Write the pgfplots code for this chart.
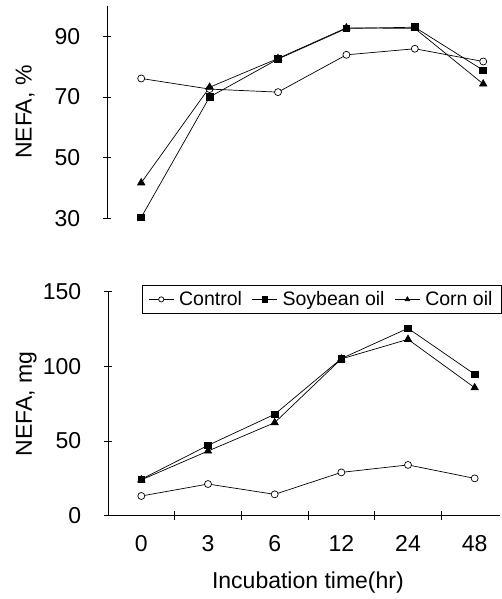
\documentclass[border=0pt]{standalone}
\usepackage{pgfplots}
\pgfplotsset{compat=1.18}
\usepackage{fontspec}
\setmainfont{Liberation Sans}

\begin{document}
\begin{tikzpicture}[font=\fontsize{23}{27}\selectfont]
\useasboundingbox (0pt,0pt) rectangle (501pt,599pt);
\pgfplotsset{
  common/.style={
    scale only axis,
    xmin=-0.5,
    /pgf/number format/assume math mode=true,
    tick align=inside,
    major tick length=8.5pt,
    tick style={line width=0.8pt, black},
    yticklabel style={xshift=-19pt},
    xticklabel style={yshift=-16pt},
    ylabel style={at={(axis description cs:-0.208,0.5)}, anchor=center},
    ctl/.style={black, line width=0.7pt, mark=*, mark size=3.5pt, mark options={fill=white, line width=0.7pt}},
    soy/.style={black, line width=0.7pt, mark=square*, mark size=3.4pt, mark options={fill=black}},
    crn/.style={black, line width=0.7pt, mark=triangle*, mark size=4.2pt, mark options={fill=black}},
  }
}
% top panel
\begin{axis}[common,
  at={(107pt,380.7pt)}, anchor=south west,
  width=394pt, height=212.3pt,
  xmax=5.26, ymin=30, ymax=100,
  ytick={30,50,70,90},
  axis x line=none, axis y line=left,
  axis line style={-, line width=0.8pt},
  y axis line style={-},
  xtick=\empty,
  ylabel={NEFA, \%},
]
\addplot[ctl] coordinates {(0,76.1) (1,72.6) (2,71.6) (3,83.9) (4,85.9) (5,81.7)};
\addplot[soy] coordinates {(0,30.3) (1,70.0) (2,82.5) (3,92.6) (4,93.0) (5,78.8)};
\addplot[crn] coordinates {(0,41.7) (1,73.2) (2,82.7) (3,92.8) (4,92.6) (5,74.3)};
\end{axis}
% bottom panel
\begin{axis}[common,
  at={(108pt,83.3pt)}, anchor=south west,
  width=392pt, height=224pt,
  xmax=5.38, ymin=0, ymax=150,
  ytick={0,50,100,150},
  axis lines=left,
  axis line style={-, line width=0.8pt},
  x axis line style={-}, y axis line style={-},
  xtick={0.5,1.5,2.5,3.5,4.5}, xticklabels={},
  extra x ticks={0,1,2,3,4,5},
  extra x tick labels={0,3,6,12,24,48},
  extra x tick style={major tick length=0pt},
  xlabel={Incubation time(hr)},
  xlabel style={at={(axis description cs:0.51,-0.300)}, anchor=center},
  ylabel={NEFA, mg},
  legend columns=3,
  legend style={at={(axis description cs:0.0867,1.030)}, anchor=north west,
    draw=black, line width=0.8pt, font=\fontsize{19.5}{22}\selectfont,
    inner xsep=6pt, inner ysep=3.8pt,
    /tikz/every even column/.append style={column sep=7.5pt},
    nodes={inner xsep=2.5pt, inner ysep=2.4pt}},
  legend image code/.code={
    \draw[#1, mark=none] (0pt,0pt) -- (25pt,0pt);
    \draw[#1, only marks, mark size=2.6pt] plot coordinates {(12.5pt,0pt)};
    \path (27.5pt,0pt);
  },
]
\addplot[ctl] coordinates {(0,13.2) (1,21.2) (2,14.3) (3,29.0) (4,34.0) (5,25.0)};
\addlegendentry{Control}
\addplot[soy] coordinates {(0,24.4) (1,47.1) (2,67.9) (3,105.2) (4,125.5) (5,94.7)};
\addlegendentry{Soybean oil}
\addplot[crn] coordinates {(0,24.0) (1,43.3) (2,62.3) (3,105.0) (4,118.1) (5,85.7)};
\addlegendentry{Corn oil}
\end{axis}
\end{tikzpicture}
\end{document}
